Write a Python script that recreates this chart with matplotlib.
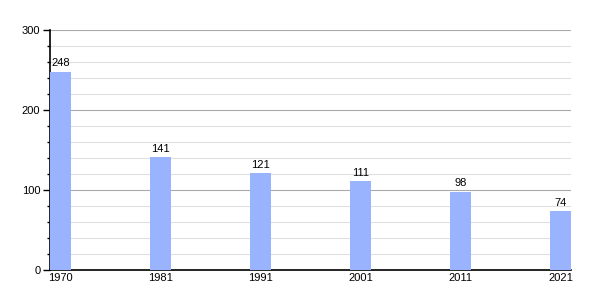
import matplotlib
matplotlib.use("Agg")
import matplotlib.pyplot as plt
from matplotlib.ticker import MultipleLocator

matplotlib.rcParams["font.family"] = ["Liberation Sans", "DejaVu Sans"]

years = ["1970", "1981", "1991", "2001", "2011", "2021"]
population = [248, 141, 121, 111, 98, 74]

fig = plt.figure(figsize=(6, 3), dpi=100)
ax = fig.add_axes([50/600, 30/300, 521/600, 240/300])

x = list(range(len(years)))
ax.bar(x, population, width=0.21, color="#99b3ff", zorder=3)
for xi, v in zip(x, population):
    ax.text(xi, v + 4, str(v), ha="center", va="bottom", fontsize=8, color="#000000", zorder=4)

ax.set_xlim(-0.105, len(years) - 1 + 0.105)
ax.set_ylim(0, 300)
ax.set_xticks(x)
ax.set_xticklabels(years)
ax.yaxis.set_major_locator(MultipleLocator(100))
ax.yaxis.set_minor_locator(MultipleLocator(20))
ax.grid(axis="y", which="major", color="#aaaaaa", lw=0.8, zorder=1)
ax.grid(axis="y", which="minor", color="#e0e0e0", lw=0.8, zorder=1)
ax.tick_params(axis="x", length=0, pad=2, labelsize=8)
ax.tick_params(axis="y", which="major", length=5, width=1, labelsize=8, pad=2)
ax.tick_params(axis="y", which="minor", length=2.5, width=1)
for s in ["top", "right"]:
    ax.spines[s].set_visible(False)
ax.spines["left"].set_linewidth(1.2)
ax.spines["bottom"].set_linewidth(1.2)

fig.savefig("out.png", dpi=100)
